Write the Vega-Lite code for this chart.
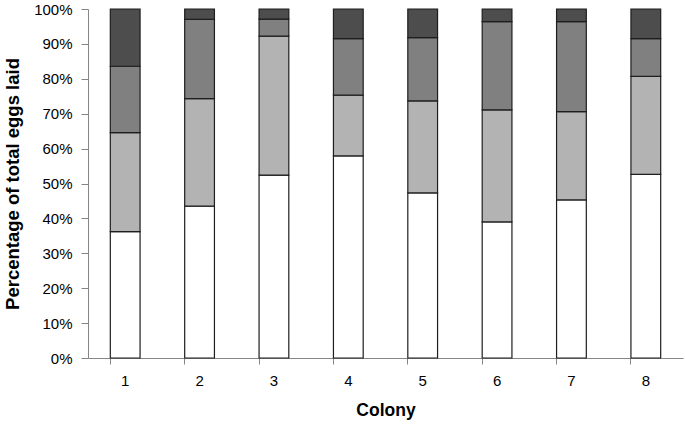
{
  "$schema": "https://vega.github.io/schema/vega-lite/v6.json",
  "width": 595,
  "height": 349,
  "autosize": "none",
  "padding": {"left": 88, "top": 9, "right": 2, "bottom": 66},
  "background": "white",
  "config": {"view": {"stroke": null}, "font": "Liberation Sans"},
  "data": {
    "values": [
      {"colony": "1", "stage": "A", "rank": 1, "pct": 36.2},
      {"colony": "1", "stage": "B", "rank": 2, "pct": 28.4},
      {"colony": "1", "stage": "C", "rank": 3, "pct": 19.0},
      {"colony": "1", "stage": "D", "rank": 4, "pct": 16.4},
      {"colony": "2", "stage": "A", "rank": 1, "pct": 43.5},
      {"colony": "2", "stage": "B", "rank": 2, "pct": 30.8},
      {"colony": "2", "stage": "C", "rank": 3, "pct": 22.7},
      {"colony": "2", "stage": "D", "rank": 4, "pct": 3.0},
      {"colony": "3", "stage": "A", "rank": 1, "pct": 52.4},
      {"colony": "3", "stage": "B", "rank": 2, "pct": 39.8},
      {"colony": "3", "stage": "C", "rank": 3, "pct": 4.9},
      {"colony": "3", "stage": "D", "rank": 4, "pct": 2.9},
      {"colony": "4", "stage": "A", "rank": 1, "pct": 57.9},
      {"colony": "4", "stage": "B", "rank": 2, "pct": 17.4},
      {"colony": "4", "stage": "C", "rank": 3, "pct": 16.2},
      {"colony": "4", "stage": "D", "rank": 4, "pct": 8.5},
      {"colony": "5", "stage": "A", "rank": 1, "pct": 47.3},
      {"colony": "5", "stage": "B", "rank": 2, "pct": 26.4},
      {"colony": "5", "stage": "C", "rank": 3, "pct": 18.1},
      {"colony": "5", "stage": "D", "rank": 4, "pct": 8.2},
      {"colony": "6", "stage": "A", "rank": 1, "pct": 39.0},
      {"colony": "6", "stage": "B", "rank": 2, "pct": 32.1},
      {"colony": "6", "stage": "C", "rank": 3, "pct": 25.3},
      {"colony": "6", "stage": "D", "rank": 4, "pct": 3.6},
      {"colony": "7", "stage": "A", "rank": 1, "pct": 45.3},
      {"colony": "7", "stage": "B", "rank": 2, "pct": 25.3},
      {"colony": "7", "stage": "C", "rank": 3, "pct": 25.8},
      {"colony": "7", "stage": "D", "rank": 4, "pct": 3.6},
      {"colony": "8", "stage": "A", "rank": 1, "pct": 52.6},
      {"colony": "8", "stage": "B", "rank": 2, "pct": 28.1},
      {"colony": "8", "stage": "C", "rank": 3, "pct": 10.8},
      {"colony": "8", "stage": "D", "rank": 4, "pct": 8.5}
    ]
  },
  "mark": {"type": "bar", "stroke": "#1e1e1e", "strokeWidth": 1.2},
  "encoding": {
    "x": {
      "field": "colony",
      "type": "ordinal",
      "scale": {"paddingInner": 0.6, "paddingOuter": 0.3},
      "axis": {
        "title": "Colony",
        "labelAngle": 0,
        "labelFontSize": 15,
        "labelColor": "#000",
        "labelPadding": 9,
        "titleFontSize": 17.5,
        "titleFontWeight": "bold",
        "titleColor": "#000",
        "titlePadding": 13,
        "domainColor": "#868686",
        "tickColor": "#868686",
        "tickSize": 6,
        "bandPosition": 0
      }
    },
    "y": {
      "field": "pct",
      "type": "quantitative",
      "stack": "normalize",
      "scale": {"domain": [0, 1], "nice": false},
      "axis": {
        "title": "Percentage of total eggs laid",
        "format": ".0%",
        "values": [0, 0.1, 0.2, 0.3, 0.4, 0.5, 0.6, 0.7, 0.8, 0.9, 1],
        "grid": false,
        "labelFontSize": 15,
        "labelColor": "#000",
        "labelPadding": 9,
        "tickSize": 7,
        "titleFontSize": 18.5,
        "titleFontWeight": "bold",
        "titleColor": "#000",
        "titlePadding": 11,
        "domainColor": "#868686",
        "tickColor": "#868686"
      }
    },
    "color": {
      "field": "stage",
      "type": "nominal",
      "scale": {"domain": ["A", "B", "C", "D"], "range": ["#ffffff", "#b3b3b3", "#808080", "#4d4d4d"]},
      "legend": null
    },
    "order": {"field": "rank", "type": "quantitative", "sort": "ascending"}
  }
}
